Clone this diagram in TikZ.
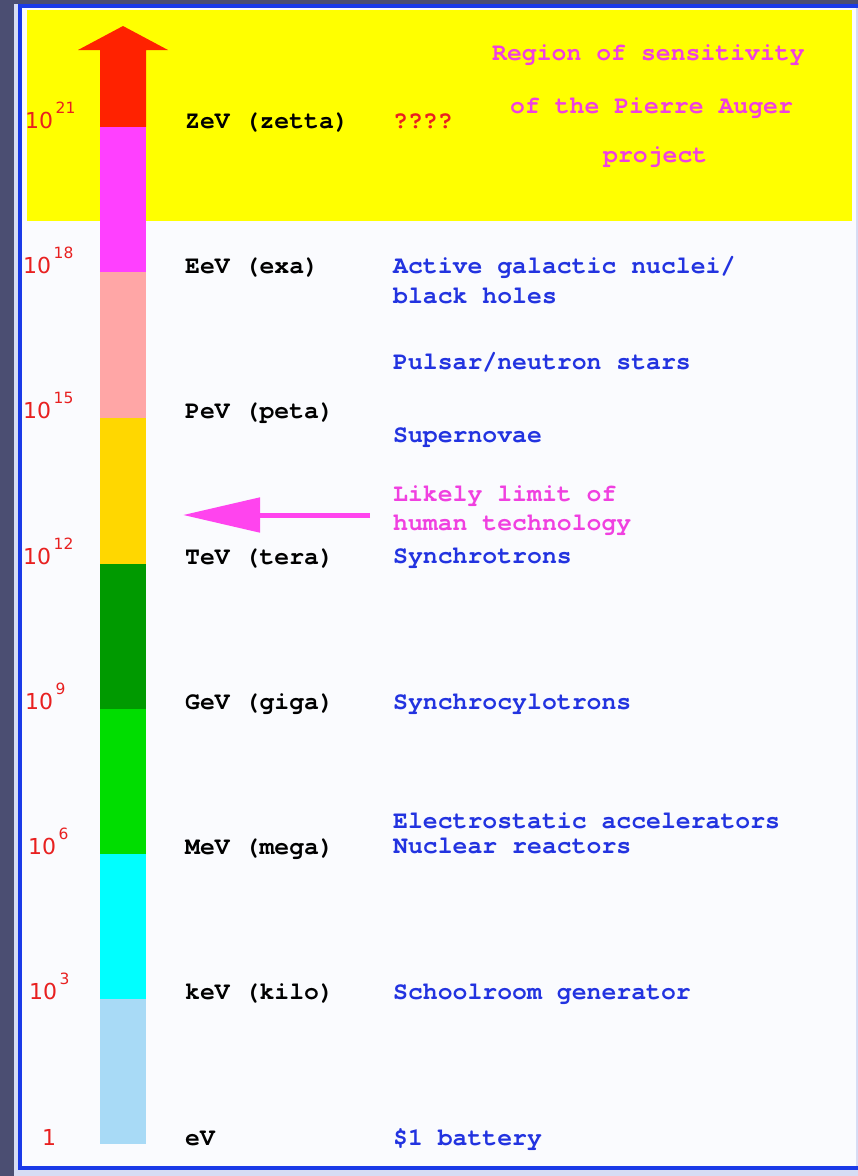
\documentclass[tikz,border=0pt]{standalone}
\usepackage{fontspec}
\setmainfont{DejaVu Sans}
\setmonofont{TeX Gyre Cursor}
\usetikzlibrary{arrows.meta}
\definecolor{bgdark}{HTML}{4B4E72}
\definecolor{lightedge}{HTML}{D6DCF4}
\definecolor{bordblue}{HTML}{1A3AE8}
\definecolor{panel}{HTML}{FAFBFE}
\definecolor{yel}{HTML}{FFFF00}
\definecolor{redarr}{HTML}{FF2200}
\definecolor{magseg}{HTML}{FF40FF}
\definecolor{pinkseg}{HTML}{FFA6A6}
\definecolor{goldseg}{HTML}{FFD700}
\definecolor{dkgreen}{HTML}{009A00}
\definecolor{grnseg}{HTML}{00DD00}
\definecolor{cyanseg}{HTML}{00FFFF}
\definecolor{ltblue}{HTML}{A8DAF6}
\definecolor{numred}{HTML}{E82020}
\definecolor{txtblue}{HTML}{2233E0}
\definecolor{txtmag}{HTML}{F040E0}
\definecolor{arrmag}{HTML}{FF44EE}
\tikzset{
  mono/.style={font=\fontsize{24.8}{30}\selectfont\ttfamily\bfseries, inner sep=0pt, anchor=base west},
  energy/.style={mono, text=black},
  source/.style={mono, text=txtblue},
  limtext/.style={mono, text=txtmag},
  auger/.style={mono, text=txtmag},
  qmark/.style={mono, text=numred},
  num/.style={font=\fontsize{22}{26}\selectfont, text=numred, inner sep=0pt, anchor=base west},
}
\newcommand{\pw}[1]{10\hspace{2.5pt}\raisebox{14.5pt}{\fontsize{15.5}{15.5}\selectfont #1}}
\begin{document}
\begin{tikzpicture}[x=1pt,y=-1pt]
\useasboundingbox (0,0) rectangle (858,1176);
% background and panel
\fill[bgdark] (0,0) rectangle (858,1176);
\fill[lightedge] (14,4) rectangle (858,1176);
\fill[panel] (18,4) rectangle (856,1170);
\fill[bordblue] (18,4) rectangle (858,8);
\fill[bordblue] (18,4) rectangle (22,1170);
\fill[bordblue] (18,1166) rectangle (858,1170);
% yellow region
\fill[yel] (27,10) rectangle (852,221);
% energy bar
\fill[redarr] (100,127) -- (100,50) -- (78,50) -- (123,26) -- (168,50) -- (146,50) -- (146,127) -- cycle;
\fill[magseg] (100,127) rectangle (146,272);
\fill[pinkseg] (100,272) rectangle (146,418);
\fill[goldseg] (100,418) rectangle (146,564);
\fill[dkgreen] (100,564) rectangle (146,709);
\fill[grnseg] (100,709) rectangle (146,854);
\fill[cyanseg] (100,854) rectangle (146,999);
\fill[ltblue] (100,999) rectangle (146,1144);
% powers of ten
\node[num] (n21) at (25,128) {\pw{21}};
\node[num] (n18) at (23,273) {\pw{18}};
\node[num] (n15) at (23,418) {\pw{15}};
\node[num] (n12) at (23,564) {\pw{12}};
\node[num] (n9) at (25,709) {\pw{9}};
\node[num] (n6) at (28,854) {\pw{6}};
\node[num] (n3) at (29,999) {\pw{3}};
\node[num] (n0) at (42,1145) {1};
% unit names
\node[energy] (zev) at (185,128) {ZeV (zetta)};
\node[energy] (eev) at (185,273) {EeV (exa)};
\node[energy] (pev) at (185,418) {PeV (peta)};
\node[energy] (tev) at (185,564) {TeV (tera)};
\node[energy] (gev) at (185,709) {GeV (giga)};
\node[energy] (mev) at (185,854) {MeV (mega)};
\node[energy] (kev) at (185,999) {keV (kilo)};
\node[energy] (ev) at (185,1145) {eV};
% sources
\node[qmark] (qq) at (393,128) {????};
\node[auger] (au1) at (492,60) {Region of sensitivity};
\node[auger] (au2) at (510,113) {of the Pierre Auger};
\node[auger] (au3) at (603,162) {project};
\node[source] (s1a) at (393,273) {Active galactic nuclei/};
\node[source] (s1b) at (393,303) {black holes};
\node[source] (s2) at (393,369) {Pulsar/neutron stars};
\node[source] (s3) at (393,442) {Supernovae};
\node[limtext] (lim1) at (393,501) {Likely limit of};
\node[limtext] (lim2) at (393,530) {human technology};
\node[source] (s4) at (393,563) {Synchrotrons};
\node[source] (s5) at (393,709) {Synchrocylotrons};
\node[source] (s6a) at (393,828) {Electrostatic accelerators};
\node[source] (s6b) at (393,853) {Nuclear reactors};
\node[source] (s7) at (393,999) {Schoolroom generator};
\node[source] (s8) at (393,1145) {\$1 battery};
% limit arrow
\coordinate (limA) at (370,515);
\coordinate (limB) at (183,515);
\draw[arrmag, line width=5pt, -{Triangle[length=77pt,width=34pt]}] (limA) -- (limB);
\end{tikzpicture}
\end{document}
